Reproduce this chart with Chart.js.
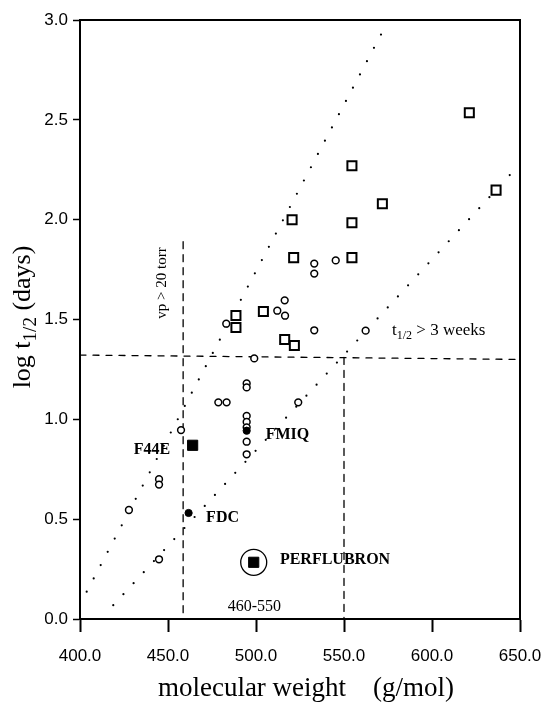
<!DOCTYPE html>
<html lang="en">
<head>
<meta charset="UTF-8">
<title>log t1/2 vs molecular weight</title>
<style>
  body { margin: 0; background: #fff; }
  #wrap { width: 544px; height: 706px; }
</style>
<script src="https://cdn.jsdelivr.net/npm/chart.js"></script>
</head>
<body>
<div id="wrap"><canvas id="chart" width="544" height="706"></canvas></div>
<script>
// data: [molecular weight, log t1/2]
const openSquares = [
  [554.5, 2.27], [520.5, 2.00], [554.5, 1.985], [571.8, 2.08], [521.4, 1.81],
  [554.5, 1.81], [504.2, 1.54], [488.6, 1.52], [488.6, 1.46], [516.3, 1.40],
  [521.8, 1.37], [621.2, 2.535], [636.4, 2.148]
];
const openCircles = [
  [533.1, 1.78], [533.1, 1.73], [545.3, 1.796], [516.3, 1.596], [512.1, 1.544],
  [516.5, 1.519], [483.1, 1.479], [533.1, 1.446], [562.3, 1.444], [499.0, 1.305],
  [494.7, 1.18], [494.7, 1.16], [478.6, 1.085], [483.3, 1.085], [524.0, 1.085],
  [494.7, 1.017], [494.7, 0.987], [494.7, 0.96], [494.7, 0.888], [494.7, 0.825],
  [457.4, 0.946], [444.9, 0.70], [444.9, 0.673], [427.8, 0.546], [444.9, 0.299]
];
const filledCircles = [[494.7, 0.943], [461.7, 0.531]];   // FMIQ, FDC
const filledSquares = [[464.0, 0.87], [498.7, 0.284]];    // F44E, PERFLUBRON
const ringed = [[498.7, 0.284]];

const upperDotted = [[403.8, 0.137], [573.0, 2.96]];
const lowerDotted = [[418.9, 0.069], [648.0, 2.26]];
const weeksLine = [[400, 1.322], [650, 1.30]];
const vpLine = [[458.6, 1.89], [458.6, 0]];
const rangeLine = [[550, 1.31], [550, 0]];

const xTicks = [400, 450, 500, 550, 600, 650];
const yTicks = [0, 0.5, 1.0, 1.5, 2.0, 2.5, 3.0];

// compound labels: text, x, y (data units, centre of text)
const compoundNames = ['F44E', 'FMIQ', 'FDC', 'PERFLUBRON'];
const compoundX = [440.9, 517.9, 481.0, 544.9];
const compoundY = [0.846, 0.921, 0.506, 0.295];

const pts = arr => arr.map(p => ({ x: p[0], y: p[1] }));
const SERIF = "'Liberation Serif', 'DejaVu Serif', serif";
const NARROW = "'Liberation Sans Narrow', 'Arial Narrow', 'Liberation Sans', sans-serif";

function lineSet(arr, dash, width) {
  return {
    type: 'line', data: pts(arr), showLine: true, pointRadius: 0,
    borderColor: '#000', borderWidth: width, borderDash: dash,
    borderCapStyle: 'round', fill: false, order: 5
  };
}

// text with a "1/2" subscript part
function drawRich(ctx, parts, size, x, y, align) {
  const widths = parts.map(p => {
    ctx.font = (p.sub ? Math.round(size * 0.72) : size) + 'px ' + SERIF;
    return ctx.measureText(p.t).width;
  });
  const total = widths.reduce((a, b) => a + b, 0);
  let cx = align === 'center' ? x - total / 2 : x;
  ctx.textAlign = 'left';
  ctx.textBaseline = 'alphabetic';
  parts.forEach((p, i) => {
    ctx.font = (p.sub ? Math.round(size * 0.72) : size) + 'px ' + SERIF;
    ctx.fillText(p.t, cx, y + (p.sub ? size * 0.22 : 0));
    cx += widths[i];
  });
}

const annotate = {
  id: 'annotate',
  afterDraw(chart) {
    const { ctx, chartArea: a, scales: { x, y } } = chart;
    ctx.save();
    ctx.strokeStyle = '#000';
    ctx.lineWidth = 2;
    ctx.beginPath();
    ctx.moveTo(a.left, a.top);
    ctx.lineTo(a.right, a.top);
    ctx.lineTo(a.right, a.bottom);
    ctx.stroke();

    ctx.fillStyle = '#000';
    ctx.textAlign = 'center';
    ctx.textBaseline = 'middle';
    ctx.font = 'bold 16px ' + SERIF;
    compoundNames.forEach((n, i) => {
      ctx.fillText(n, x.getPixelForValue(compoundX[i]), y.getPixelForValue(compoundY[i]));
    });
    ctx.font = '16px ' + SERIF;
    ctx.fillText('460-550', x.getPixelForValue(499.1), y.getPixelForValue(0.06));

    // rotated vapour pressure note
    ctx.save();
    ctx.translate(x.getPixelForValue(446.5), y.getPixelForValue(1.683));
    ctx.rotate(-Math.PI / 2);
    ctx.font = '15px ' + SERIF;
    ctx.fillText('vp > 20 torr', 0, 0);
    ctx.restore();

    drawRich(ctx, [{ t: 't' }, { t: '1/2', sub: true }, { t: ' > 3 weeks' }], 17,
      x.getPixelForValue(577.3), y.getPixelForValue(1.447) + 5, 'left');

    // axis titles
    drawRich(ctx, [{ t: 'molecular weight    (g/mol)' }], 27, 306, 696, 'center');
    ctx.save();
    ctx.translate(30, 317);
    ctx.rotate(-Math.PI / 2);
    drawRich(ctx, [{ t: 'log t' }, { t: '1/2', sub: true }, { t: ' (days)' }], 26, 0, 0, 'center');
    ctx.restore();
    ctx.restore();
  }
};

new Chart(document.getElementById('chart'), {
  type: 'scatter',
  data: {
    datasets: [
      lineSet(upperDotted, [0, 15], 2.2),
      lineSet(lowerDotted, [0, 15], 2.2),
      lineSet(weeksLine, [6, 7], 1.3),
      lineSet(vpLine, [7, 6], 1.3),
      lineSet(rangeLine, [7, 6], 1.3),
      {
        data: pts(openSquares), pointStyle: 'rect', pointRadius: 6.4,
        backgroundColor: '#fff', borderColor: '#000', borderWidth: 2, order: 1
      },
      {
        data: pts(openCircles), pointStyle: 'circle', pointRadius: 3.4,
        backgroundColor: '#fff', borderColor: '#000', borderWidth: 1.5, order: 1
      },
      {
        data: pts(filledCircles), pointStyle: 'circle', pointRadius: 3.6,
        backgroundColor: '#000', borderColor: '#000', borderWidth: 1, order: 0
      },
      {
        data: pts(filledSquares), pointStyle: 'rect', pointRadius: 7.2,
        backgroundColor: '#000', borderColor: '#000', borderWidth: 1, order: 0
      },
      {
        data: pts(ringed), pointStyle: 'circle', pointRadius: 13,
        backgroundColor: 'rgba(0,0,0,0)', borderColor: '#000', borderWidth: 1.3, order: 0
      }
    ]
  },
  options: {
    responsive: false,
    animation: false,
    layout: { padding: { top: 20, right: 24, left: 0, bottom: 0 } },
    plugins: { legend: { display: false }, tooltip: { enabled: false } },
    scales: {
      x: {
        type: 'linear', min: 400, max: 650,
        afterFit: s => { s.height = 87; s.paddingLeft = 0; s.paddingRight = 0; },
        afterBuildTicks: s => { s.ticks = xTicks.map(v => ({ value: v })); },
        ticks: {
          color: '#000', padding: 14,
          font: { family: NARROW, size: 17 },
          callback: v => v.toFixed(1)
        },
        grid: { drawOnChartArea: false, drawTicks: true, tickLength: 13, color: '#000', tickWidth: 2 },
        border: { display: true, color: '#000', width: 2 }
      },
      y: {
        type: 'linear', min: 0, max: 3,
        afterFit: s => { s.width = 80; s.paddingTop = 0; s.paddingBottom = 0; },
        afterBuildTicks: s => { s.ticks = yTicks.map(v => ({ value: v })); },
        ticks: {
          color: '#000', padding: 5,
          font: { family: NARROW, size: 17 },
          callback: v => v.toFixed(1)
        },
        grid: { drawOnChartArea: false, drawTicks: true, tickLength: 7, color: '#000', tickWidth: 1.5 },
        border: { display: true, color: '#000', width: 2 }
      }
    }
  },
  plugins: [annotate]
});
</script>
</body>
</html>
